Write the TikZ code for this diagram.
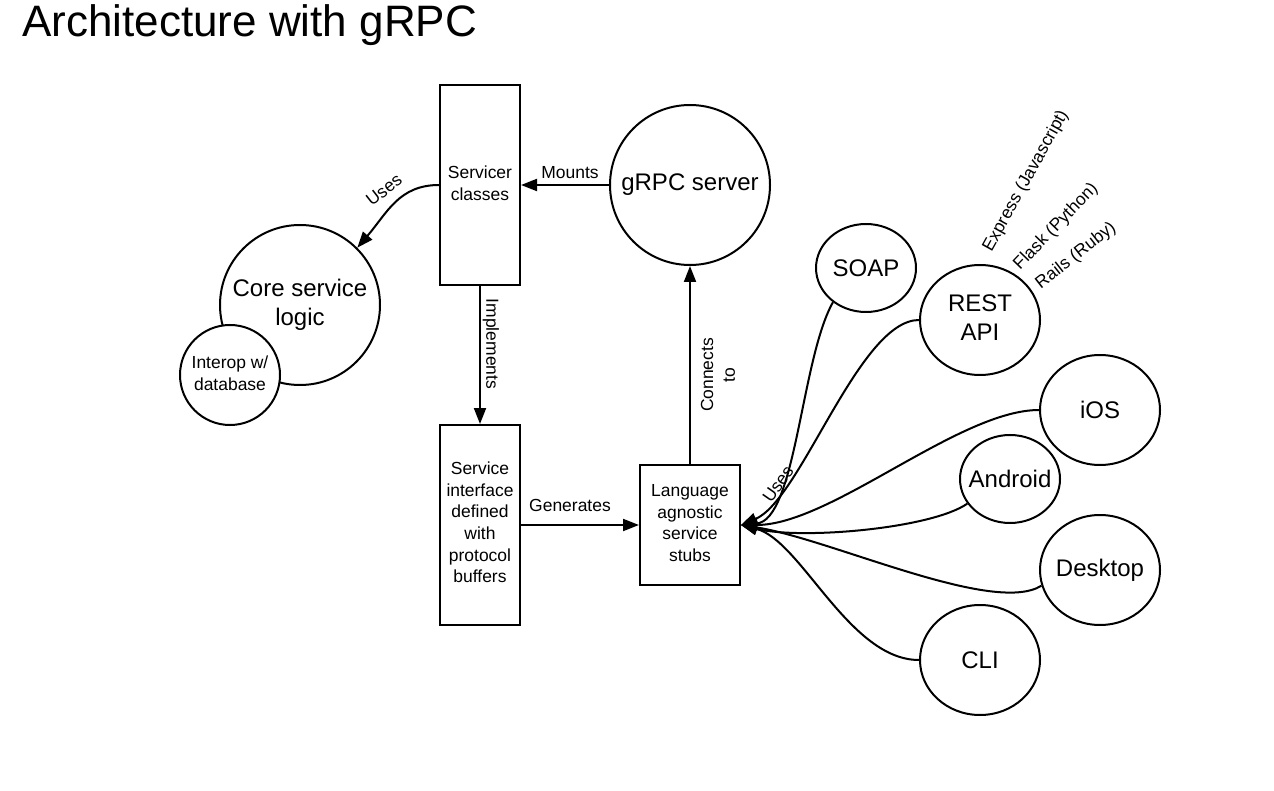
\documentclass[tikz,border=0pt]{standalone}
\usepackage{fontspec}
\setmainfont{Liberation Sans}
\usetikzlibrary{arrows.meta,shapes.geometric}

\newcommand{\fsSmall}{\fontsize{13.1}{16.2}\selectfont}
\newcommand{\fsBig}{\fontsize{18}{21.75}\selectfont}
\newcommand{\fsTitle}{\fontsize{33}{40}\selectfont}

\tikzset{
  procbox/.style={draw, line width=1.5pt, rectangle, minimum width=60pt, inner sep=0pt, align=center, font=\fsSmall},
  bubble/.style={draw, line width=1.5pt, circle, fill=white, inner sep=0pt, align=center, font=\fsBig},
  client/.style={draw, line width=1.5pt, ellipse, inner xsep=-8pt, inner ysep=0pt, align=center, font=\fsBig, minimum width=90pt, minimum height=82.5pt},
  smallclient/.style={client, minimum width=75pt, minimum height=66pt},
  link/.style={draw, line width=1.5pt, -{Triangle[length=12pt,width=9pt]}},
  tag/.style={inner sep=0pt, font=\fsSmall, align=center}
}

\begin{document}
\begin{tikzpicture}[x=0.75pt,y=0.75pt,yscale=-1,xscale=1]
\useasboundingbox (0,0) rectangle (1274,791);

% Text Node
\node (title) [anchor=base west, inner sep=0pt, font=\fsTitle] at (22,37) {Architecture with gRPC};

% Boxes
\node (servicer) [procbox, minimum height=150pt] at (480,185) {Servicer\\classes\rule[-3pt]{0pt}{0pt}};
\node (iface) [procbox, minimum height=150pt] at (480,525) {Service\\interface\\defined\\with\\protocol\\buffers\rule[-4pt]{0pt}{0pt}};
\node (stubs) [procbox, minimum width=75pt, minimum height=90pt] at (690,525) {Language\\agnostic\\service\\stubs\rule[-3pt]{0pt}{0pt}};

% Circles
\node (grpc) [bubble, minimum size=120pt] at (690,185) {gRPC server};
\node (core) [bubble, minimum size=120pt] at (300,305) {Core service\\logic};
\node (interop) [bubble, minimum size=75pt, font=\fsSmall] at (230,375) {Interop w/\\database\rule[-3pt]{0pt}{0pt}};

% Clients
\node (soap) [smallclient] at (866,268) {SOAP};
\node (rest) [client] at (980,320) {REST\\API\rule[-3pt]{0pt}{0pt}};
\node (ios) [client] at (1100,410) {iOS};
\node (android) [smallclient] at (1010,479) {Android};
\node (desktop) [client] at (1100,570) {Desktop};
\node (cli) [client] at (980,660) {CLI};

% Connection
\draw [link] (grpc.west) -- (servicer.east);
\node (mountsLbl) [tag] at (570,173) {Mounts};

% Connection
\draw [link] (servicer.west) .. controls +(-40,0) and +(30,-35) .. (core.45);
\node (usesCoreLbl) [tag, rotate=38] at (384,190) {Uses};

% Connection
\draw [link] (servicer.south) -- (iface.north);
\node (implLbl) [tag, rotate=-90] at (491,344) {Implements};

% Connection
\draw [link] (iface.east) -- (stubs.west);
\node (genLbl) [tag] at (570,505) {Generates};

% Connection
\draw [link] (stubs.north) -- (grpc.south);
\node (connLbl) [tag, rotate=90] at (718,375) {Connects\\to};

% Connection
\draw [link] (soap.226) .. controls +(-32,57) and +(55,-5) .. (stubs.east);
\draw [link] (rest.west) .. controls +(-60,0) and +(60,-25) .. (stubs.east);
\draw [link] (ios.west) .. controls +(-80,0) and +(90,0) .. (stubs.east);
\draw [link] (android.210) .. controls +(-36,25) and +(60,15) .. (stubs.east);
\draw [link] (desktop.195) .. controls +(-48,30) and +(90,14) .. (stubs.east);
\draw [link] (cli.west) .. controls +(-70,0) and +(60,15) .. (stubs.east);
\node (usesStubsLbl) [tag, rotate=55] at (778,484) {Uses};

% Text Node
\node (expressLbl) [tag, rotate=61] at (1026,181) {Express (Javascript)};
\node (flaskLbl) [tag, rotate=46] at (1056,227) {Flask (Python)};
\node (railsLbl) [tag, rotate=38] at (1076,256) {Rails (Ruby)};

\end{tikzpicture}
\end{document}
